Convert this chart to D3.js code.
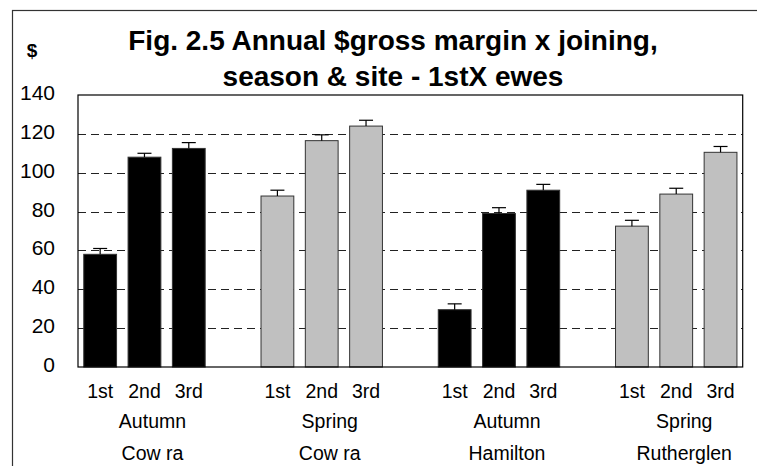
<!DOCTYPE html>
<html lang="en">
<head>
<meta charset="utf-8">
<script src="https://cdn.jsdelivr.net/npm/d3@7/dist/d3.min.js"></script>
<style>
  body { margin: 0; background: #fff; }
  svg text { font-family: "Liberation Sans", Arial, sans-serif; fill: #000; }
  .title { font-size: 28px; font-weight: bold; text-anchor: middle; }
  .ytick { font-size: 21px; text-anchor: end; }
  .xlab { font-size: 19.5px; text-anchor: middle; }
  .grid { stroke: #222; stroke-width: 1; stroke-dasharray: 8,5; }
</style>
</head>
<body>
<div id="chart"></div>
<script>
// data
var joinings = ["1st", "2nd", "3rd"];
var seasons = ["Autumn", "Spring", "Autumn", "Spring"];
var sites = ["Cow ra", "Cow ra", "Hamilton", "Rutherglen"];
var grossMargin = [
  [58, 108, 112.5],
  [88, 116.5, 124],
  [29.5, 79, 91],
  [72.5, 89, 110.5]
];
var stdErr = [
  [3, 2, 3],
  [3, 3, 3],
  [3, 3, 3],
  [3, 3, 3]
];
var yTicks = [0, 20, 40, 60, 80, 100, 120, 140];
var titleLines = ["Fig. 2.5 Annual $gross margin x joining,", "season & site - 1stX ewes"];

var seasonColor = { "Autumn": "#000000", "Spring": "#c0c0c0" };

var width = 757, height = 466;
var plot = { left: 78, right: 742.7, top: 95, bottom: 367 };

var svg = d3.select("#chart").append("svg")
  .attr("width", width)
  .attr("height", height);

// outer chart border (runs off the right and bottom edges)
svg.append("rect")
  .attr("x", 12.5).attr("y", 10.5)
  .attr("width", 770).attr("height", 480)
  .attr("fill", "none").attr("stroke", "#333").attr("stroke-width", 1.2);

// slots: 3 bars per group with an empty slot between groups
var slots = [];
var bars = [];
grossMargin.forEach(function(g, gi) {
  if (gi > 0) slots.push("gap" + gi);
  g.forEach(function(v, j) {
    var key = gi + "-" + j;
    slots.push(key);
    bars.push({ key: key, group: gi, joining: joinings[j], value: v, err: stdErr[gi][j], season: seasons[gi] });
  });
});

var x = d3.scaleBand()
  .domain(slots)
  .range([plot.left, plot.right])
  .paddingInner(0.26)
  .paddingOuter(0.13);

var y = d3.scaleLinear()
  .domain([0, 140])
  .range([plot.bottom, plot.top]);

// gridlines
svg.append("g").selectAll("line")
  .data(yTicks.filter(function(d) { return d > 0 && d < 140; }))
  .enter().append("line")
  .attr("class", "grid")
  .attr("x1", plot.left).attr("x2", plot.right)
  .attr("y1", function(d) { return Math.round(y(d)) + 0.5; })
  .attr("y2", function(d) { return Math.round(y(d)) + 0.5; });

// bars
svg.append("g").selectAll("rect")
  .data(bars)
  .enter().append("rect")
  .attr("x", function(d) { return x(d.key); })
  .attr("y", function(d) { return y(d.value); })
  .attr("width", x.bandwidth())
  .attr("height", function(d) { return y(0) - y(d.value); })
  .attr("fill", function(d) { return seasonColor[d.season]; })
  .attr("stroke", "#333")
  .attr("stroke-width", 1);

// error bars (upper only)
var eb = svg.append("g").attr("stroke", "#000").attr("stroke-width", 1.2);
eb.selectAll("line.v")
  .data(bars).enter().append("line").attr("class", "v")
  .attr("x1", function(d) { return x(d.key) + x.bandwidth() / 2; })
  .attr("x2", function(d) { return x(d.key) + x.bandwidth() / 2; })
  .attr("y1", function(d) { return y(d.value); })
  .attr("y2", function(d) { return y(d.value + d.err); });
eb.selectAll("line.c")
  .data(bars).enter().append("line").attr("class", "c")
  .attr("x1", function(d) { return x(d.key) + x.bandwidth() / 2 - 7; })
  .attr("x2", function(d) { return x(d.key) + x.bandwidth() / 2 + 7; })
  .attr("y1", function(d) { return y(d.value + d.err); })
  .attr("y2", function(d) { return y(d.value + d.err); });

// plot frame
svg.append("rect")
  .attr("x", plot.left).attr("y", plot.top)
  .attr("width", plot.right - plot.left).attr("height", plot.bottom - plot.top)
  .attr("fill", "none").attr("stroke", "#000").attr("stroke-width", 1.2);

// y tick labels
svg.append("g").selectAll("text")
  .data(yTicks)
  .enter().append("text")
  .attr("class", "ytick")
  .attr("x", 55)
  .attr("y", function(d) { return y(d) + 5; })
  .text(function(d) { return d; });

svg.append("text")
  .attr("x", 32).attr("y", 57)
  .attr("text-anchor", "middle")
  .style("font-size", "19px").style("font-weight", "bold")
  .text("$");

// x labels
svg.append("g").selectAll("text")
  .data(bars)
  .enter().append("text")
  .attr("class", "xlab")
  .attr("x", function(d) { return x(d.key) + x.bandwidth() / 2; })
  .attr("y", 398)
  .text(function(d) { return d.joining; });

var groupCenter = function(gi) { return x(gi + "-1") + x.bandwidth() / 2 + 8; };

svg.append("g").selectAll("text")
  .data(seasons)
  .enter().append("text")
  .attr("class", "xlab")
  .attr("x", function(d, i) { return groupCenter(i); })
  .attr("y", 428)
  .text(function(d) { return d; });

svg.append("g").selectAll("text")
  .data(sites)
  .enter().append("text")
  .attr("class", "xlab")
  .attr("x", function(d, i) { return groupCenter(i); })
  .attr("y", 460)
  .text(function(d) { return d; });

// title
svg.append("g").selectAll("text")
  .data(titleLines)
  .enter().append("text")
  .attr("class", "title")
  .attr("x", 393)
  .attr("y", function(d, i) { return 50 + i * 36; })
  .text(function(d) { return d; });
</script>
</body>
</html>
